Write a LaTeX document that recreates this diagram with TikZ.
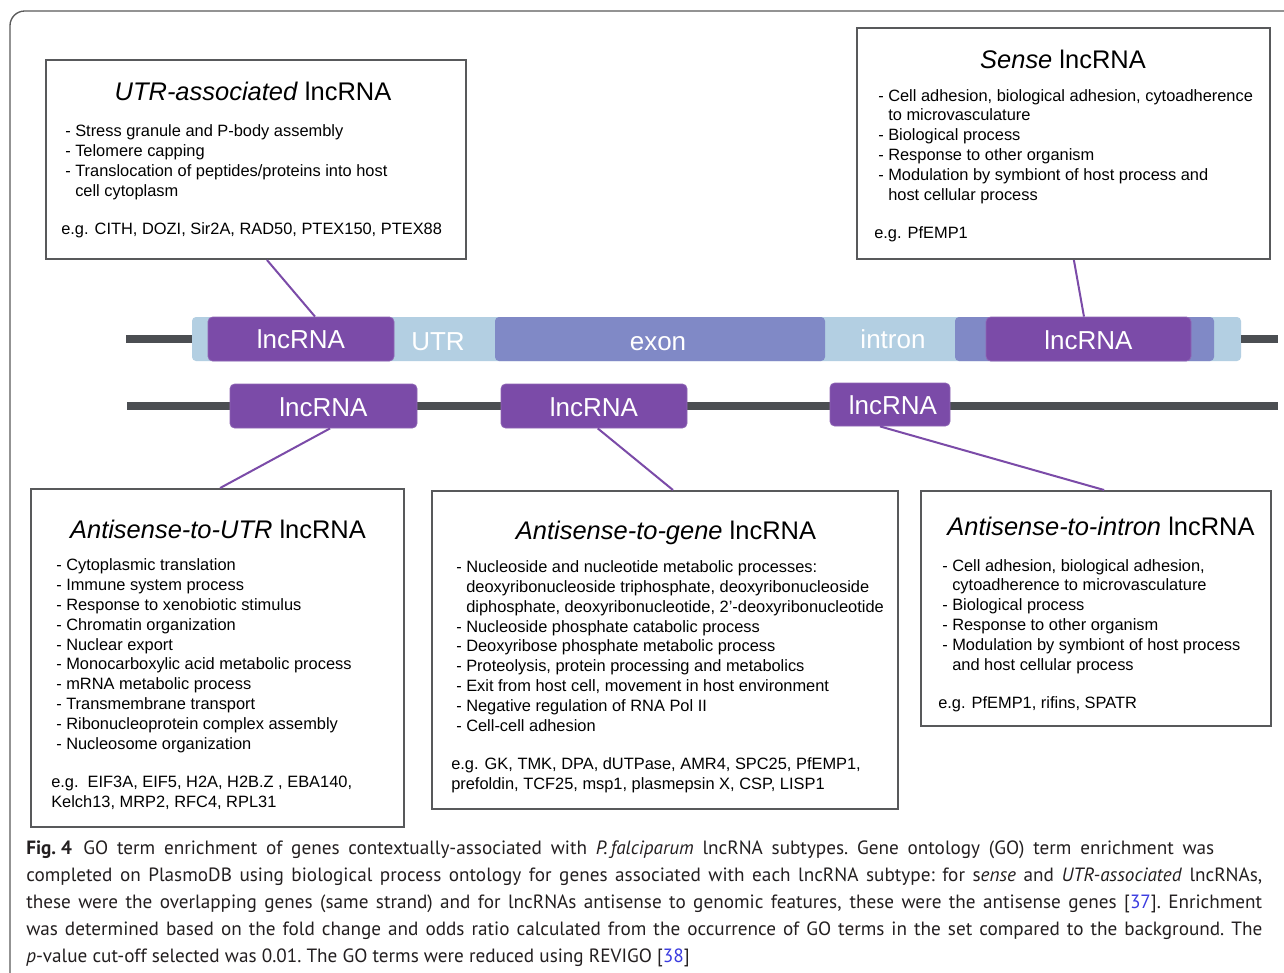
\documentclass[tikz,border=0pt]{standalone}
\usepackage{fontspec}
\setmainfont{Liberation Sans}
\newfontfamily\capfont{PT Sans}
\usetikzlibrary{calc,fit}
\definecolor{lnc}{HTML}{7B4BA8}
\definecolor{utrc}{HTML}{B3CFE2}
\definecolor{exonc}{HTML}{8089C6}
\definecolor{chrom}{HTML}{4B4E52}
\definecolor{boxc}{HTML}{58595B}
\definecolor{framec}{HTML}{5A5A5A}
\definecolor{refc}{HTML}{3B3BE0}
\definecolor{capc}{HTML}{231F20}
\newcommand\ind{\hphantom{-\ }}
\newcommand\capline[1]{\hbox to 927pt{#1}}
\begin{document}
\begin{tikzpicture}[x=0.75pt,y=-0.75pt,
  infobox/.style={draw=boxc, line width=1.5pt, inner sep=0pt, fit={#1}},
  seg/.style={inner sep=0pt, rounded corners=3pt, fit={#1}},
  lncbox/.style={fill=lnc, draw=lnc!85!white, line width=0.6pt, inner sep=0pt, rounded corners=3.5pt, fit={#1}},
  genelab/.style={text=white, font=\fontsize{19.5}{22}\selectfont, text height=0.72em, text depth=0pt, inner sep=0pt},
  chromline/.style={draw=chrom, line width=6pt},
  conn/.style={draw=lnc, line width=1.5pt},
  body/.style={anchor=base west, align=left, inner sep=0pt, font=\fontsize{12.3}{14.85}\selectfont},
  title/.style={anchor=base, inner sep=0pt, font=\fontsize{19.1}{22}\selectfont},
]
\useasboundingbox (0,0) rectangle (1284,972);
\fill[white] (0,0) rectangle (1284,972);
% outer frame
\draw[framec, line width=1pt, rounded corners=11pt] (10,1000) -- (10,11) -- (1320,11);

% chromosome lines
\coordinate (tl) at (126,339);
\coordinate (tr) at (1278,339);
\coordinate (bl) at (127,406);
\coordinate (br) at (1278,406);
\draw[chromline] (bl) -- (br);

% gene bar
\node[seg={(192,317)(1241,361)}, fill=utrc] (bar) {};
\draw[chromline] (tl) -- (bar.west);
\draw[chromline] (bar.east) -- (tr);
\node[seg={(495,317)(825,361)}, fill=exonc] (exon1) {};
\node[seg={(955,317)(1214,361)}, fill=exonc] (exon2) {};
\node[lncbox={(208,317)(394,361)}] (l1) {};
\node[lncbox={(986,317)(1191,361)}] (l4) {};
\node[genelab] (l1lab) at ($(l1.center)+(0,5)$) {lncRNA};
\node[genelab] (l4lab) at ($(l4.center)+(0,6)$) {lncRNA};
\node[genelab] (utrlab) at (438,346) {UTR};
\node[genelab] (exonlab) at (658,346) {exon};
\node[genelab] (intronlab) at (893,344) {intron};

% lower strand lncRNAs
\node[lncbox={(230,384)(417,428)}] (la) {};
\node[lncbox={(501,384)(687,428)}] (lb) {};
\node[lncbox={(830,383)(950,426)}] (lc) {};
\node[genelab] (lalab) at ($(la.center)+(0,6)$) {lncRNA};
\node[genelab] (lblab) at ($(lb.center)+(0,6)$) {lncRNA};
\node[genelab] (lclab) at ($(lc.center)+(3,5)$) {lncRNA};

% info boxes
\node[infobox={(46,60)(466,259)}] (utr) {};
\node[infobox={(857,28)(1270,259)}] (sense) {};
\node[infobox={(31,489)(404,827)}] (asutr) {};
\node[infobox={(432,491)(898,809)}] (asgene) {};
\node[infobox={(921,491)(1271,726)}] (asintron) {};

% connectors
\draw[conn] ($(utr.south west)!0.526!(utr.south east)$) -- ($(l1.north west)!0.575!(l1.north east)$);
\draw[conn] ($(sense.south west)!0.525!(sense.south east)$) -- ($(l4.north west)!0.478!(l4.north east)$);
\draw[conn] ($(la.south west)!0.535!(la.south east)$) -- ($(asutr.north west)!0.507!(asutr.north east)$);
\draw[conn] ($(lb.south west)!0.52!(lb.south east)$) -- ($(asgene.north west)!0.517!(asgene.north east)$);
\draw[conn] ($(lc.south west)!0.417!(lc.south east)$) -- ($(asintron.north west)!0.523!(asintron.north east)$);

% UTR-associated box (body nodes anchored at the baseline of their last line)
\node[title] (utrt) at (253,100) {\textit{UTR-associated} lncRNA};
\node[body] (utrb) at (65,196) {- Stress granule and P-body assembly\\- Telomere capping\\- Translocation of peptides/proteins into host\\\ind cell cytoplasm};
\node[body] (utre) at (61,234) {e.g. CITH, DOZI, Sir2A, RAD50, PTEX150, PTEX88};

% Sense box
\node[title] (senset) at (1063,68) {\textit{Sense} lncRNA};
\node[body] (senseb) at (878,200) {- Cell adhesion, biological adhesion, cytoadherence\\\ind to microvasculature\\- Biological process\\- Response to other organism\\- Modulation by symbiont of host process and\\\ind host cellular process};
\node[body] (sensee) at (874,238) {e.g. PfEMP1};

% Antisense-to-UTR box
\node[title] (asutrt) at (218,538) {\textit{Antisense-to-UTR} lncRNA};
\node[body] (asutrb) at (56,749) {- Cytoplasmic translation\\- Immune system process\\- Response to xenobiotic stimulus\\- Chromatin organization\\- Nuclear export\\- Monocarboxylic acid metabolic process\\- mRNA metabolic process\\- Transmembrane transport\\- Ribonucleoprotein complex assembly\\- Nucleosome organization};
\node[body] (asutre) at (51,807) {e.g.\ \ EIF3A, EIF5, H2A, H2B.Z , EBA140,\\Kelch13, MRP2, RFC4, RPL31};

% Antisense-to-gene box
\node[title] (asgenet) at (666,539) {\textit{Antisense-to-gene} lncRNA};
\node[body] (asgeneb) at (456,731) {- Nucleoside and nucleotide metabolic processes:\\\ind deoxyribonucleoside triphosphate, deoxyribonucleoside\\\ind diphosphate, deoxyribonucleotide, 2'-deoxyribonucleotide\\- Nucleoside phosphate catabolic process\\- Deoxyribose phosphate metabolic process\\- Proteolysis, protein processing and metabolics\\- Exit from host cell, movement in host environment\\- Negative regulation of RNA Pol II\\- Cell-cell adhesion};
\node[body] (asgenee) at (451,789) {e.g. GK, TMK, DPA, dUTPase, AMR4, SPC25, PfEMP1,\\prefoldin, TCF25, msp1, plasmepsin X, CSP, LISP1};

% Antisense-to-intron box
\node[title] (asintront) at (1101,535) {\textit{Antisense-to-intron} lncRNA};
\node[body] (asintronb) at (942,670) {- Cell adhesion, biological adhesion,\\\ind cytoadherence to microvasculature\\- Biological process\\- Response to other organism\\- Modulation by symbiont of host process\\\ind and host cellular process};
\node[body] (asintrone) at (938,708) {e.g. PfEMP1, rifins, SPATR};

% caption
\node[anchor=base west, text width=927pt, inner sep=0pt, text=capc,
      font=\capfont\fontsize{14.4}{20.25}\selectfont] (cap) at (26,854)
{\spaceskip=\fontdimen2\font plus 1fil minus 0.3\fontdimen2\font\relax
 \xspaceskip=\spaceskip
 \hbox to 891pt{\textbf{Fig.\kern0.25em4}\kern0.6em GO term enrichment of genes contextually-associated with \textit{P.\,falciparum} lncRNA subtypes. Gene ontology (GO) term enrichment was}
\capline{completed on PlasmoDB using biological process ontology for genes associated with each lncRNA subtype: for s\textit{ense} and \textit{UTR-associated} lncRNAs,}
\capline{these were the overlapping genes (same strand) and for lncRNAs antisense to genomic features, these were the antisense genes [\textcolor{refc}{37}]. Enrichment}
\capline{was determined based on the fold change and odds ratio calculated from the occurrence of GO terms in the set compared to the background. The}
\hbox{\textit{p}-value cut-off selected was 0.01. The GO terms were reduced using REVIGO [\textcolor{refc}{38}]}};
\end{tikzpicture}
\end{document}
